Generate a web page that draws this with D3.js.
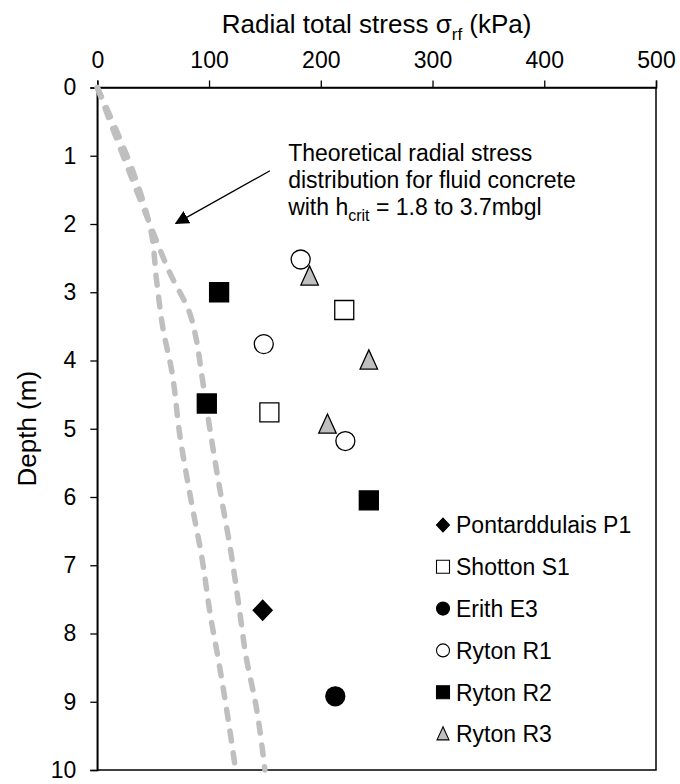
<!DOCTYPE html>
<html>
<head>
<meta charset="utf-8">
<script src="https://cdn.jsdelivr.net/npm/d3@7"></script>
<style>
  body { margin: 0; background: #fff; }
  text { font-family: Arial, "Liberation Sans", sans-serif; fill: #000; }
</style>
</head>
<body>
<svg id="chart"></svg>
<script>
// Tick labels
const xTicks = [0, 100, 200, 300, 400, 500];
const yTicks = [0, 1, 2, 3, 4, 5, 6, 7, 8, 9, 10];

// Measured points: [radial stress kPa, depth m]
const pontarddulaisP1 = [[148, 7.66]];
const shottonS1 = [[221, 3.26], [154, 4.76]];
const erithE3 = [[213, 8.92]];
const rytonR1 = [[182, 2.52], [149, 3.76], [222, 5.18]];
const rytonR2 = [[109, 3.0], [98, 4.63], [243, 6.05]];
const rytonR3 = [[190, 2.77], [243, 4.0], [206, 4.94]];

// Theoretical distributions (hcrit = 1.8 and 3.7 mbgl)
const theoryLow = [[0, 0], [45, 1.9], [48, 2.1], [53, 2.82], [59, 3.55], [66.5, 4.14], [74, 5.11],
    [84.4, 6.09], [93.4, 6.87], [102.3, 7.84], [106.8, 8.24], [115.7, 9.11], [123.8, 10]];
const theoryHigh = [[0, 0], [47, 2.0], [65, 2.72], [82.8, 3.31], [88.7, 3.7], [93.2, 4.18], [100.8, 5.01],
    [109.7, 5.89], [118.7, 6.72], [129.2, 7.89], [132.1, 8.24], [142.6, 9.11], [150, 10]];

// Annotation: arrow from/to in data units, text anchor
const arrowFrom = [154.5, 1.22];
const arrowTo = [70.4, 1.99];
const noteAt = [170.8, 1.07];

const width = 680, height = 784;
const margin = { top: 87.5, right: 24, bottom: 14, left: 97.3 };

const svg = d3.select("#chart")
    .attr("width", width)
    .attr("height", height);

const x = d3.scaleLinear().domain([0, 500]).range([margin.left, width - margin.right]);
const y = d3.scaleLinear().domain([0, 10]).range([margin.top, height - margin.bottom]);

// Frame
svg.append("rect")
    .attr("x", x(0)).attr("y", y(0))
    .attr("width", x(500) - x(0)).attr("height", y(10) - y(0))
    .attr("fill", "none").attr("stroke", "#000").attr("stroke-width", 1.5);

// Top axis
const xAxis = svg.append("g")
    .attr("transform", `translate(0, ${y(0)})`)
    .call(d3.axisTop(x).tickValues(xTicks).tickSize(7).tickPadding(13).tickFormat(d3.format("d")));
xAxis.select(".domain").attr("stroke-width", 1.5);
xAxis.selectAll(".tick line").attr("stroke-width", 1.3);
xAxis.selectAll("text").attr("font-size", 23).attr("font-family", null);

// Left axis
const yAxis = svg.append("g")
    .attr("transform", `translate(${x(0)}, 0)`)
    .call(d3.axisLeft(y).tickValues(yTicks).tickSize(7).tickPadding(14).tickFormat(d3.format("d")));
yAxis.select(".domain").attr("stroke-width", 1.5);
yAxis.selectAll(".tick line").attr("stroke-width", 1.3);
yAxis.selectAll("text").attr("font-size", 23).attr("font-family", null);

// Axis titles
const title = svg.append("text")
    .attr("x", (x(0) + x(500)) / 2).attr("y", 33)
    .attr("text-anchor", "middle").attr("font-size", 26);
title.append("tspan").text("Radial total stress σ");
title.append("tspan").attr("font-size", 17).attr("dy", 7).text("rf");
title.append("tspan").attr("dy", -7).text(" (kPa)");

svg.append("text")
    .attr("transform", `translate(36, ${(y(0) + y(10)) / 2}) rotate(-90)`)
    .attr("text-anchor", "middle").attr("font-size", 26)
    .text("Depth (m)");

// Theoretical lines
const line = d3.line().x(d => x(d[0])).y(d => y(d[1])).curve(d3.curveMonotoneY);
[theoryLow, theoryHigh].forEach(data => {
    svg.append("path")
        .datum(data)
        .attr("d", line)
        .attr("fill", "none")
        .attr("stroke", "#bfbfbf")
        .attr("stroke-width", 5.5)
        .attr("stroke-linecap", "round")
        .attr("stroke-dasharray", "10 12");
});

// Marker shapes
function markerPath(shape, s) {
    const h = s / 2;
    if (shape === "diamond") return `M0,${-h * 1.06}L${h},0L0,${h * 1.06}L${-h},0Z`;
    if (shape === "square") return `M${-h},${-h}H${h}V${h}H${-h}Z`;
    if (shape === "triangle") return `M0,${-h * 1.12}L${h * 0.92},${h * 0.9}L${-h * 0.92},${h * 0.9}Z`;
    return d3.symbol(d3.symbolCircle, Math.PI * h * h)();
}

const series = [
    { name: "Pontarddulais P1", data: pontarddulaisP1, shape: "diamond", fill: "#000", stroke: "#000" },
    { name: "Shotton S1", data: shottonS1, shape: "square", fill: "#fff", stroke: "#000" },
    { name: "Erith E3", data: erithE3, shape: "circle", fill: "#000", stroke: "#000" },
    { name: "Ryton R1", data: rytonR1, shape: "circle", fill: "#fff", stroke: "#000" },
    { name: "Ryton R2", data: rytonR2, shape: "square", fill: "#000", stroke: "#000" },
    { name: "Ryton R3", data: rytonR3, shape: "triangle", fill: "#bfbfbf", stroke: "#000" }
];

// draw triangles first so circles sit on top
const drawOrder = [5, 0, 1, 2, 3, 4];
drawOrder.forEach(i => {
    const s = series[i];
    svg.append("g").selectAll("path")
        .data(s.data)
        .enter()
        .append("path")
        .attr("transform", d => `translate(${x(d[0])}, ${y(d[1])})`)
        .attr("d", markerPath(s.shape, 19))
        .attr("fill", s.fill)
        .attr("stroke", s.stroke)
        .attr("stroke-width", 1.3);
});

// Annotation
svg.append("defs").append("marker")
    .attr("id", "arrow")
    .attr("viewBox", "0 0 10 10")
    .attr("refX", 9).attr("refY", 5)
    .attr("markerWidth", 14).attr("markerHeight", 14)
    .attr("markerUnits", "userSpaceOnUse")
    .attr("orient", "auto")
    .append("path").attr("d", "M0,0L10,5L0,10Z").attr("fill", "#000");

svg.append("line")
    .attr("x1", x(arrowFrom[0])).attr("y1", y(arrowFrom[1]))
    .attr("x2", x(arrowTo[0])).attr("y2", y(arrowTo[1]))
    .attr("stroke", "#000").attr("stroke-width", 1.3)
    .attr("marker-end", "url(#arrow)");

const note = svg.append("text")
    .attr("x", x(noteAt[0])).attr("y", y(noteAt[1]))
    .attr("font-size", 23);
note.append("tspan").attr("x", x(noteAt[0])).text("Theoretical radial stress");
note.append("tspan").attr("x", x(noteAt[0])).attr("dy", 27).text("distribution for fluid concrete");
const l3 = note.append("tspan").attr("x", x(noteAt[0])).attr("dy", 27).text("with h");
note.append("tspan").attr("font-size", 16).attr("dy", 6).text("crit");
note.append("tspan").attr("dy", -6).text(" = 1.8 to 3.7mbgl");

// Legend
const legend = svg.append("g").attr("transform", "translate(443, 525)");
series.forEach((s, i) => {
    const row = legend.append("g").attr("transform", `translate(0, ${i * 41.8})`);
    row.append("path")
        .attr("d", markerPath(s.shape, 13))
        .attr("fill", s.fill)
        .attr("stroke", s.stroke)
        .attr("stroke-width", 1.1);
    row.append("text")
        .attr("x", 13).attr("y", 8.3)
        .attr("font-size", 23)
        .text(s.name);
});
</script>
</body>
</html>
